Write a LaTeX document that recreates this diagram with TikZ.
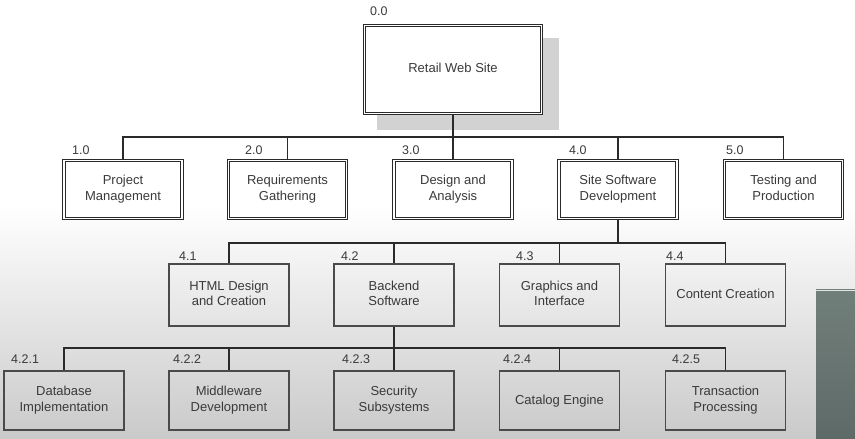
\documentclass[tikz,border=0pt]{standalone}
\usepackage{fontspec}
\setmainfont{Liberation Sans}
\usetikzlibrary{calc}
\definecolor{txt}{HTML}{3A3A3A}
\definecolor{ln}{HTML}{2A2A2A}
\definecolor{shad}{HTML}{D2D2D2}
\definecolor{darktop}{HTML}{717F7B}
\definecolor{darkbot}{HTML}{5E6A67}
\newcommand{\topstrut}{\rule{0pt}{10.5bp}}
\newcommand{\botstrut}{\rule[-3.5bp]{0pt}{3.5bp}}
\tikzset{
  dbox/.style={draw=ln, double=white, line width=0.9bp, double distance=1.3bp, fill=white,
    minimum width=118bp, minimum height=58bp, align=center, text=txt,
    font=\fontsize{13bp}{15.5bp}\selectfont, inner sep=0pt,
    execute at begin node=\topstrut, execute at end node=\botstrut},
  sbox/.style={draw=ln!85, line width=1.4bp,
    minimum width=120bp, align=center, text=txt,
    font=\fontsize{13bp}{15.5bp}\selectfont, inner sep=0pt,
    execute at begin node=\topstrut, execute at end node=\botstrut},
  numlab/.style={anchor=base west, inner sep=0pt, text=txt, font=\fontsize{12.5bp}{14bp}\selectfont},
  conn/.style={draw=ln, line width=1.4bp},
}
\begin{document}
\begin{tikzpicture}[x=1bp,y=-1bp]
\useasboundingbox (0,0) rectangle (855,439);
% background
\fill[white] (0,0) rectangle (855,206);
\shade[top color=white, bottom color=black!21] (0,205) rectangle (855,439);
\shade[top color=darktop, bottom color=darkbot] (816,290) rectangle (855,439);
\draw[white!80!darktop, line width=0.8bp] (816,290.4) -- (855,290.4);
% top
\fill[shad] (377,38) rectangle (559,130);
\node[dbox, minimum width=177bp, minimum height=88bp] (top) at (453,69.5) {Retail Web Site};
\node[numlab] (ltop) at (370,16) {0.0};
% level 1
\node[dbox] (n1) at (123,189.5) {Project\\Management};
\node[dbox] (n2) at (287.5,189.5) {Requirements\\Gathering};
\node[dbox] (n3) at (453,189.5) {Design and\\Analysis};
\node[dbox] (n4) at (618,189.5) {Site Software\\Development};
\node[dbox] (n5) at (783.5,189.5) {Testing and\\Production};
\foreach \i/\x/\t in {1/72/1.0,2/245/2.0,3/402/3.0,4/569/4.0,5/726/5.0}
  \node[numlab] (l\i) at (\x,155) {\t};
\coordinate (b1) at (453,137);
\draw[conn] (top.south) -- (b1);
\foreach \i in {1,2,3,4,5} \draw[conn] (b1) -| (n\i.north);
% level 2
\node[sbox, minimum height=62bp] (m1) at (229,295) {HTML Design\\and Creation};
\node[sbox, minimum height=62bp] (m2) at (394,295) {Backend\\Software};
\node[sbox, minimum height=62bp] (m3) at (559.5,295) {Graphics and\\Interface};
\node[sbox, minimum height=62bp] (m4) at (725.5,295) {Content Creation};
\foreach \i/\x/\t in {1/179/4.1,2/341/4.2,3/516/4.3,4/666/4.4}
  \node[numlab] (k\i) at (\x,260.5) {\t};
\coordinate (b2) at (618,243);
\draw[conn] (n4.south) -- (b2);
\foreach \i in {1,2,3,4} \draw[conn] (b2) -| (m\i.north);
% level 3
\node[sbox, minimum height=59bp] (p1) at (64,400.5) {Database\\Implementation};
\node[sbox, minimum height=59bp] (p2) at (229,400.5) {Middleware\\Development};
\node[sbox, minimum height=59bp] (p3) at (394,400.5) {Security\\Subsystems};
\node[sbox, minimum height=59bp] (p4) at (559.5,400.5) {Catalog Engine};
\node[sbox, minimum height=59bp] (p5) at (725.5,400.5) {Transaction\\Processing};
\foreach \i/\x/\t in {1/11/4.2.1,2/173/4.2.2,3/342/4.2.3,4/503/4.2.4,5/672/4.2.5}
  \node[numlab] (q\i) at (\x,364) {\t};
\coordinate (b3) at (394,348);
\draw[conn] (m2.south) -- (b3);
\foreach \i in {1,2,3,4,5} \draw[conn] (b3) -| (p\i.north);
\end{tikzpicture}
\end{document}
